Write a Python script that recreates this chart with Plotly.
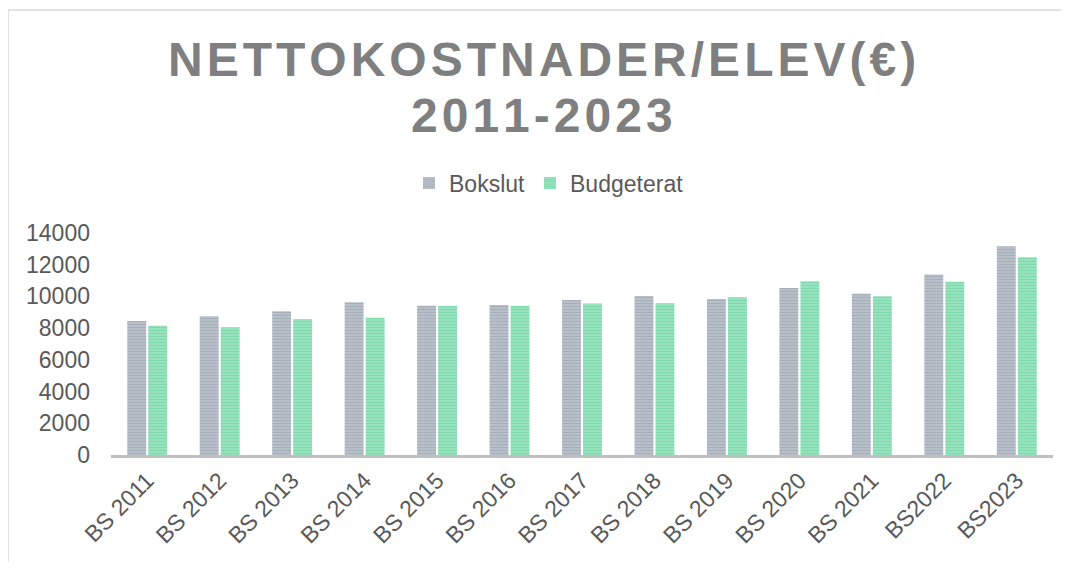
import plotly.graph_objects as go

categories = ["BS 2011", "BS 2012", "BS 2013", "BS 2014", "BS 2015", "BS 2016", "BS 2017",
              "BS 2018", "BS 2019", "BS 2020", "BS 2021", "BS2022", "BS2023"]
bokslut = [8450, 8750, 9060, 9630, 9420, 9460, 9780, 10030, 9840, 10530, 10170, 11390, 13160]
budgeterat = [8150, 8050, 8580, 8650, 9400, 9400, 9550, 9570, 9950, 10950, 10010, 10930, 12470]
y_ticks = [0, 2000, 4000, 6000, 8000, 10000, 12000, 14000]
title_lines = ["NETTOKOSTNADER/ELEV(€)", "2011-2023"]

# page body has an 8px margin: figure pixel = reference pixel - 8
OFF = 8
W, H = 1053, 554
L, T = 111 - OFF, 233 - OFF
pw, ph = 942, 222
R = W - L - pw
B = H - T - ph

def px_x(p):
    return (p - OFF - L) / pw

def px_y(p):
    return (T + ph - (p - OFF)) / ph

def spaced(s):
    return "\u200a".join(s)

FONT = "Liberation Sans, Arial, sans-serif"

fig = go.Figure()
fig.add_trace(go.Bar(
    name="Bokslut", x=categories, y=bokslut,
    marker=dict(color="#8994a0", line=dict(width=0),
                pattern=dict(shape="-", fgcolor="#8994a0", bgcolor="#c2c9d2", size=3, solidity=0.6)),
))
fig.add_trace(go.Bar(
    name="Budgeterat", x=categories, y=budgeterat,
    marker=dict(color="#55cd96", line=dict(width=0),
                pattern=dict(shape="-", fgcolor="#55cd96", bgcolor="#a6e7c7", size=3, solidity=0.6)),
))

annotations = [
    dict(text=spaced(title_lines[0]), x=px_x(542), y=px_y(59), xref="paper", yref="paper",
         xanchor="center", yanchor="middle", showarrow=False,
         font=dict(family=FONT, size=48, color="#7f7f7f", weight="bold")),
    dict(text=spaced(title_lines[1]), x=px_x(542), y=px_y(115), xref="paper", yref="paper",
         xanchor="center", yanchor="middle", showarrow=False,
         font=dict(family=FONT, size=48, color="#7f7f7f", weight="bold")),
]

fig.update_layout(
    width=W, height=H,
    margin=dict(l=L, r=R, t=T, b=B, autoexpand=False),
    paper_bgcolor="white", plot_bgcolor="white",
    barmode="group", bargap=0.42, bargroupgap=0.1,
    font=dict(family=FONT, color="#595959", size=23),
    annotations=annotations,
    legend=dict(orientation="h", x=px_x(549), xanchor="center", y=px_y(183), yanchor="middle",
                font=dict(size=23, color="#595959"), itemwidth=30, traceorder="normal"),
    showlegend=True,
    xaxis=dict(showline=True, linecolor="#bfbfbf", linewidth=3, showgrid=False, ticks="",
               tickangle=-45, tickfont=dict(size=23, color="#595959")),
    yaxis=dict(range=[0, 14000], tickvals=y_ticks, tickformat="d", showgrid=False, zeroline=False,
               showline=False, ticks="", ticklabelstandoff=20, tickfont=dict(size=23, color="#595959")),
    shapes=[
        dict(type="line", xref="paper", yref="paper", x0=px_x(8), x1=px_x(8), y0=px_y(10), y1=px_y(580),
             line=dict(color="#d9d9d9", width=1.5)),
        dict(type="line", xref="paper", yref="paper", x0=px_x(8), x1=px_x(1080), y0=px_y(10), y1=px_y(10),
             line=dict(color="#d9d9d9", width=1.5)),
    ],
)

fig.write_html("out.html")
